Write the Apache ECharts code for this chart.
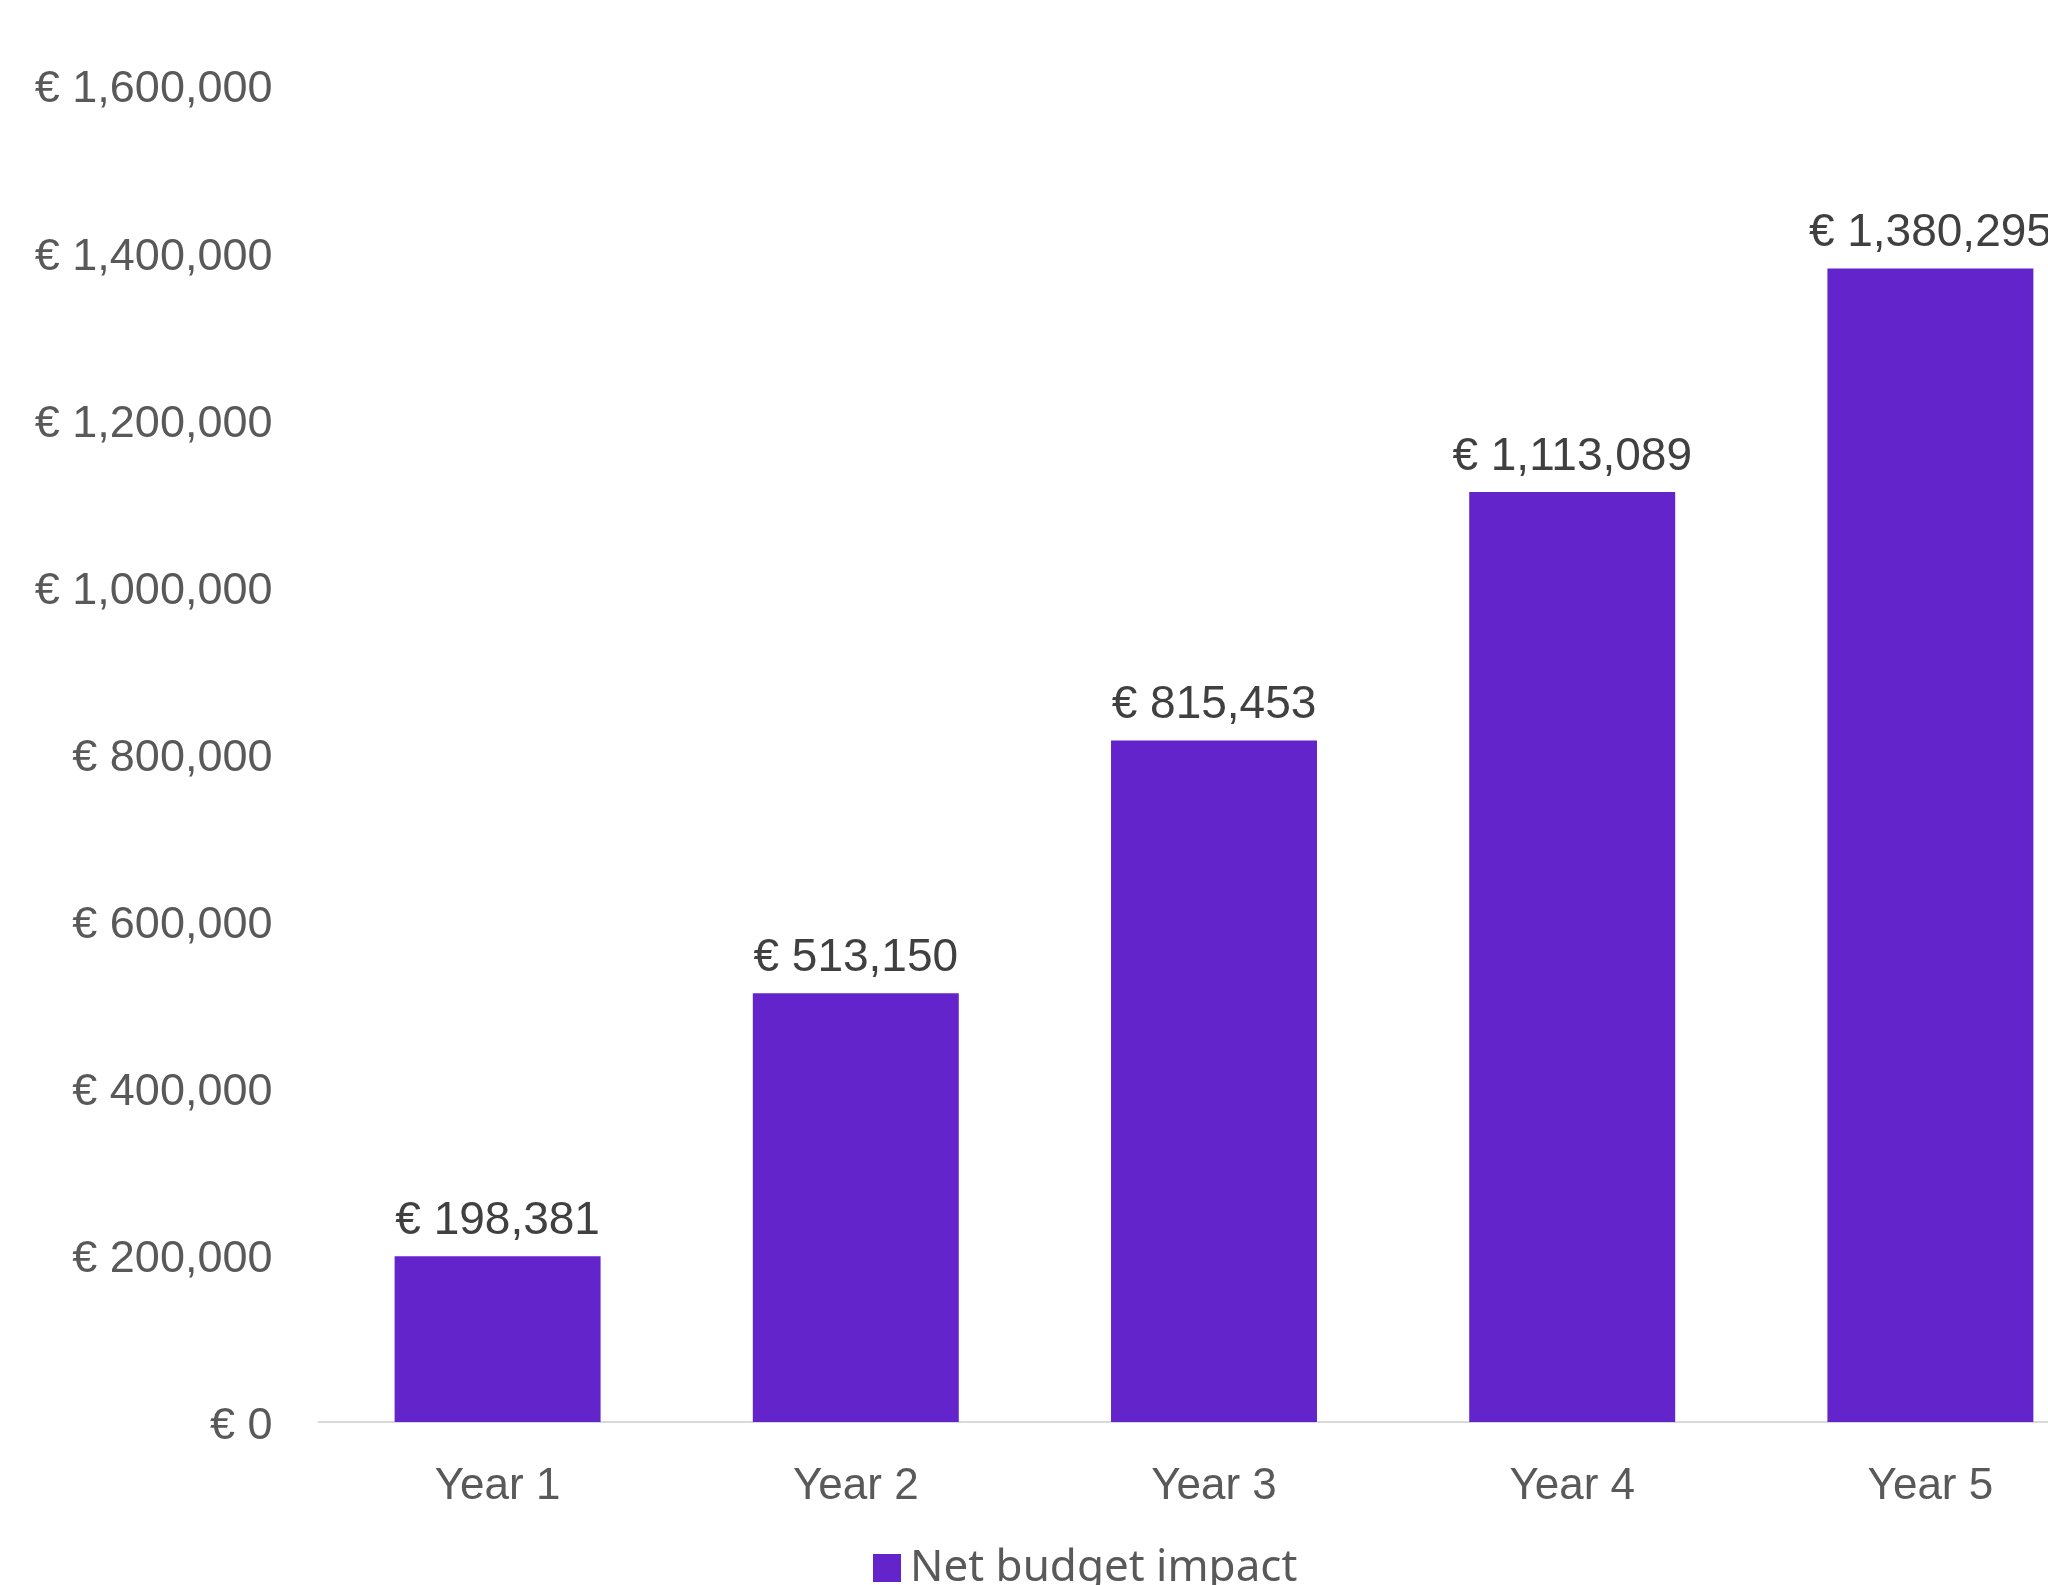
<!DOCTYPE html>
<html>
<head>
<meta charset="utf-8">
<script src="https://cdn.jsdelivr.net/npm/echarts@6/dist/echarts.min.js"></script>
<style>
  html, body { margin: 0; padding: 0; background: #fff; }
  #chart { width: 2048px; height: 1585px; }
</style>
</head>
<body>
<div id="chart"></div>
<script>
// data
var categories = ['Year 1', 'Year 2', 'Year 3', 'Year 4', 'Year 5'];
var netBudget = [198381, 513150, 815453, 1113089, 1380295];
var seriesName = 'Net budget impact';
var yMin = 0, yMax = 1600000, yStep = 200000;

function euro(v) {
  return '€ ' + Number(v).toLocaleString('en-US');
}

var myChart = echarts.init(document.getElementById('chart'));
var option = {
  backgroundColor: '#ffffff',
  animation: false,
  // plot runs past the right edge, last bar label is cut off like in the original
  grid: { left: 318.5, width: 1791, top: 85, bottom: 163, outerBoundsMode: 'none' },
  legend: {
    data: [seriesName],
    left: 868,
    top: 1541,
    icon: 'rect',
    itemWidth: 28,
    itemHeight: 28,
    textStyle: {
      fontFamily: 'Noto Sans',
      fontSize: 44,
      color: '#595959',
      padding: [0, 0, 0, 4]
    }
  },
  xAxis: {
    type: 'category',
    data: categories,
    axisLine: { lineStyle: { color: '#D9D9D9', width: 2 } },
    axisTick: { show: false },
    axisLabel: {
      margin: 43,
      fontFamily: 'Liberation Sans',
      fontSize: 44,
      color: '#595959'
    }
  },
  yAxis: {
    type: 'value',
    min: yMin,
    max: yMax,
    interval: yStep,
    splitLine: { show: false },
    axisLine: { show: false },
    axisTick: { show: false },
    axisLabel: {
      margin: 46,
      fontFamily: 'Liberation Sans',
      fontSize: 45,
      color: '#595959',
      verticalAlign: 'top',
      lineHeight: 10,
      formatter: euro
    }
  },
  series: [{
    name: seriesName,
    type: 'bar',
    data: netBudget,
    barCategoryGap: '42.5%',
    itemStyle: { color: '#6424CB' },
    label: {
      show: true,
      position: 'top',
      distance: 12,
      fontFamily: 'Liberation Sans',
      fontSize: 46,
      color: '#404040',
      formatter: function (p) { return euro(p.value); }
    }
  }]
};
myChart.setOption(option);
</script>
</body>
</html>
